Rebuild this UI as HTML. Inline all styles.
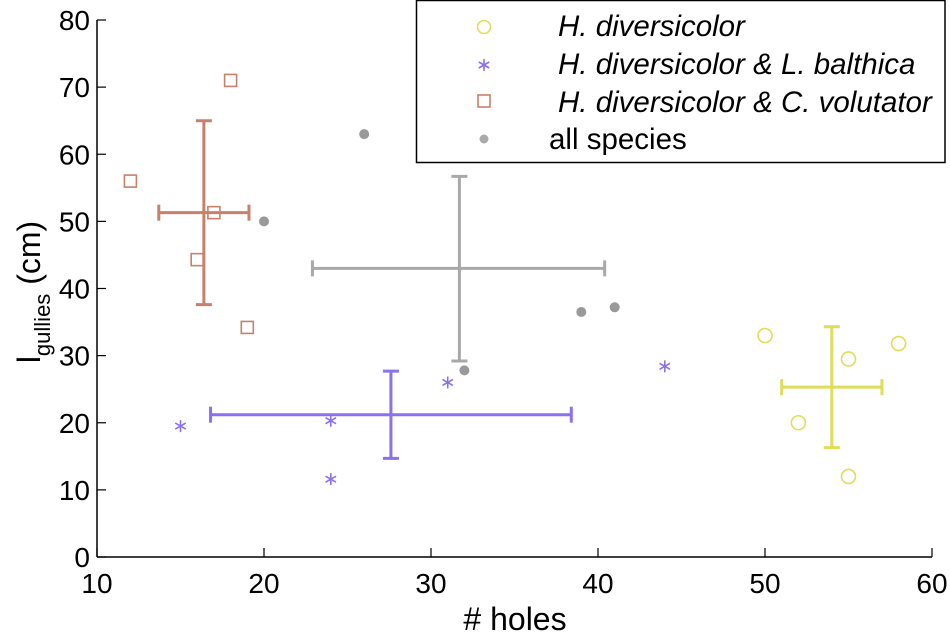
<!DOCTYPE html>
<html><head><meta charset="utf-8"><style>
body{margin:0;background:#fff;}
svg{display:block;font-family:"Liberation Sans",Arial,sans-serif;}
</style></head><body>
<svg id="chart" width="950" height="635" viewBox="0 0 950 635" xmlns="http://www.w3.org/2000/svg">
<g id="axes"></g>
<g id="marks"></g>
<text x="515" y="630" font-size="32" text-anchor="middle"># holes</text>
<text transform="translate(40,292) rotate(-90)" font-size="32" text-anchor="middle">l<tspan font-size="22" dy="10">gullies</tspan><tspan dy="-10"> (cm)</tspan></text>
<g>
<rect x="416.5" y="0.5" width="528.5" height="162" fill="#fff" stroke="#000" stroke-width="1.5"/>
<circle cx="484" cy="27" r="6.5" fill="none" stroke="#dede5a" stroke-width="1.6"/>
<text x="558" y="36" font-size="29.5" font-style="italic">H. diversicolor</text>
<g id="legstar"></g>
<text x="558" y="74" font-size="29.5" font-style="italic">H. diversicolor &amp; L. balthica</text>
<rect x="478" y="95" width="12" height="12" fill="none" stroke="#c8806a" stroke-width="1.6"/>
<text x="558" y="112" font-size="29.5" font-style="italic">H. diversicolor &amp; C. volutator</text>
<circle cx="484" cy="139" r="4.5" fill="#aaa"/>
<text x="549" y="149" font-size="29.5">all species</text>
</g>
</svg>
<script>
const xTicks=[10,20,30,40,50,60];
const yTicks=[0,10,20,30,40,50,60,70,80];
const hdX=[50,52,55,55,58], hdY=[33,20,29.5,12,31.8];
const lbX=[15,24,24,31,44], lbY=[19.5,20.3,11.6,26,28.4];
const cvX=[12,16,17,18,19], cvY=[56,44.3,51.3,71,34.2];
const allX=[20,26,32,39,41], allY=[50,63,27.8,36.5,37.2];
const errCenters=[[54,25.3],[27.6,21.2],[16.4,51.3],[31.7,43]];
const errX=[[51,57],[16.8,38.4],[13.7,19.1],[22.9,40.4]];
const errY=[[16.3,34.3],[14.7,27.7],[37.6,65],[29.2,56.7]];
const errNames=['errorbar-hd','errorbar-hd-lb','errorbar-hd-cv','errorbar-all'];
const errColors=['#dede5a','#8b70f0','#c8806a','#a8a8a8'];
const NS='http://www.w3.org/2000/svg';
const sx=v=>97+(v-10)*(835/50);
const sy=v=>557-v*(537/80);
function mk(tag,attrs,parent){const e=document.createElementNS(NS,tag);for(const k in attrs)e.setAttribute(k,attrs[k]);parent.appendChild(e);return e;}
const axes=document.getElementById('axes'), marks=document.getElementById('marks');
const xa=mk('line',{x1:97,y1:557,x2:932,y2:557,stroke:'#000','stroke-width':1.5},axes);


const ya=mk('line',{x1:97,y1:20,x2:97,y2:557,stroke:'#000','stroke-width':1.5},axes);


xTicks.forEach(t=>{mk('line',{x1:sx(t),y1:557,x2:sx(t),y2:548,stroke:'#000','stroke-width':1.2},axes);
const tx=mk('text',{x:sx(t),y:593,'font-size':28,'text-anchor':'middle'},axes);tx.textContent=t;

});
yTicks.forEach(t=>{mk('line',{x1:97,y1:sy(t),x2:106,y2:sy(t),stroke:'#000','stroke-width':1.2},axes);
const tx=mk('text',{x:90,y:sy(t)+10,'font-size':28,'text-anchor':'end'},axes);tx.textContent=t;

});
function star(cx,cy,c,p){const r=6;const g=mk('g',{stroke:c,'stroke-width':1.6},p);
mk('line',{x1:cx,y1:cy-r,x2:cx,y2:cy+r},g);
mk('line',{x1:cx-r*0.87,y1:cy-r/2,x2:cx+r*0.87,y2:cy+r/2},g);
mk('line',{x1:cx-r*0.87,y1:cy+r/2,x2:cx+r*0.87,y2:cy-r/2},g);return g;}
star(484,65,'#8b70f0',document.getElementById('legstar'));
errCenters.forEach((c,i)=>{const g=mk('g',{stroke:errColors[i],'stroke-width':3,fill:'none'},marks);


const cx=sx(c[0]),cy=sy(c[1]),x0=sx(errX[i][0]),x1=sx(errX[i][1]),y0=sy(errY[i][0]),y1=sy(errY[i][1]);
mk('line',{x1:x0,y1:cy,x2:x1,y2:cy},g);mk('line',{x1:cx,y1:y0,x2:cx,y2:y1},g);
mk('line',{x1:x0,y1:cy-8,x2:x0,y2:cy+8},g);mk('line',{x1:x1,y1:cy-8,x2:x1,y2:cy+8},g);
mk('line',{x1:cx-8,y1:y0,x2:cx+8,y2:y0},g);mk('line',{x1:cx-8,y1:y1,x2:cx+8,y2:y1},g);});
hdX.forEach((x,i)=>{const e=mk('circle',{cx:sx(x),cy:sy(hdY[i]),r:7,fill:'none',stroke:'#dede5a','stroke-width':1.6},marks);

});
lbX.forEach((x,i)=>{const e=star(sx(x),sy(lbY[i]),'#8b70f0',marks);

});
cvX.forEach((x,i)=>{const e=mk('rect',{x:sx(x)-6,y:sy(cvY[i])-6,width:12,height:12,fill:'none',stroke:'#c8806a','stroke-width':1.6},marks);

});
allX.forEach((x,i)=>{const e=mk('circle',{cx:sx(x),cy:sy(allY[i]),r:5,fill:'#999'},marks);

});
</script>
</body></html>
